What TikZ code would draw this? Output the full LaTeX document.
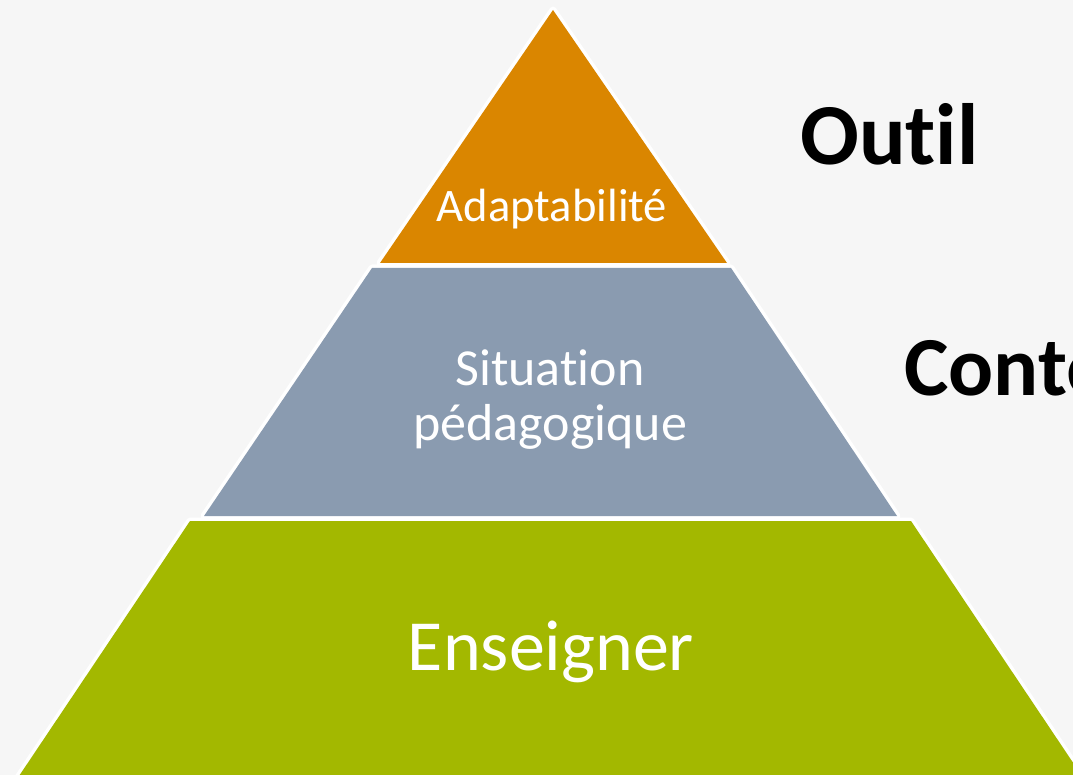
\documentclass[tikz,border=0pt]{standalone}
\usepackage{fontspec}
\setmainfont{Carlito}[Ligatures={NoCommon}]
\definecolor{bgc}{HTML}{F6F6F6}
\definecolor{orangec}{HTML}{DA8600}
\definecolor{grayc}{HTML}{8A9BB0}
\definecolor{greenc}{HTML}{A3B800}
\begin{document}
\begin{tikzpicture}[x=1pt,y=-1pt,
  border/.style={draw=white, line width=7pt, line join=round},
  inner/.style={text=white, inner sep=0pt, anchor=base, align=center},
  side/.style={text=black, inner sep=0pt, anchor=base west, font=\bfseries\fontsize{87}{87}\selectfont}]
\useasboundingbox (0,0) rectangle (1073,775);
\clip (0,0) rectangle (1073,775);
\fill[bgc] (0,0) rectangle (1073,775);
% band corners
\coordinate (oA) at (553,10);
\coordinate (oL) at (380,263);
\coordinate (oR) at (727,263);
\coordinate (gTL) at (372,268);
\coordinate (gTR) at (731,268);
\coordinate (gBR) at (897,516);
\coordinate (gBL) at (204,516);
\coordinate (vTL) at (190,521);
\coordinate (vTR) at (911,521);
\coordinate (vBR) at (1088,785);
\coordinate (vBL) at (13,785);
% white outlines
\path[border] (oA) -- (oR) -- (oL) -- cycle;
\path[border] (gTL) -- (gTR) -- (gBR) -- (gBL) -- cycle;
\path[border] (vTL) -- (vTR) -- (vBR) -- (vBL) -- cycle;
% fills
\fill[orangec] (oA) -- (oR) -- (oL) -- cycle;
\fill[grayc] (gTL) -- (gTR) -- (gBR) -- (gBL) -- cycle;
\fill[greenc] (vTL) -- (vTR) -- (vBR) -- (vBL) -- cycle;
% labels
\node[inner, font=\fontsize{46.6}{50}\selectfont] (adapt) at (552,222) {Adaptabilité};
\node[inner, font=\fontsize{52}{55}\selectfont] (situ) at (550,440) {Situation\\pédagogique};
\node[inner, font=\fontsize{72}{76}\selectfont] (ens) at (551,670) {Enseigner};
\node[side] (outil) at (800,165) {Outil};
\node[side, font=\bfseries\fontsize{84}{84}\selectfont] (conte) at (904,395) {Contexte};
\end{tikzpicture}
\end{document}
